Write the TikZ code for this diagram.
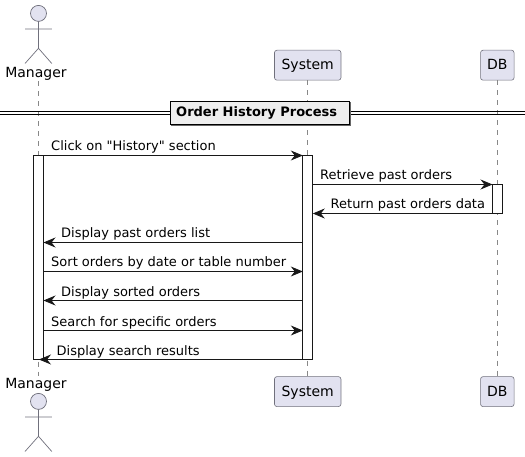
\documentclass[tikz,border=0pt]{standalone}
\usepackage{fontspec}
\newfontfamily\djv{DejaVu Sans}
\usetikzlibrary{arrows.meta}
\definecolor{partfill}{HTML}{E2E2F0}
\definecolor{partline}{HTML}{70707C}
\definecolor{lifecol}{HTML}{888888}
\definecolor{inkcol}{HTML}{181818}
\definecolor{dividerfill}{HTML}{EEEEEE}
\tikzset{
  x=1pt,y=-1pt,
  txt/.style={inner sep=0pt,font=\djv\fontsize{14}{16}\selectfont,text=black,anchor=base},
  lbl/.style={inner sep=0pt,font=\djv\fontsize{13}{15}\selectfont,text=black,anchor=base west},
  partbox/.style={draw=partline,fill=partfill,rounded corners=2.5pt,line width=.6pt,minimum height=30pt,inner sep=0pt,text height=12pt,text depth=3pt,font=\djv\fontsize{14}{16}\selectfont,text=black},
  lifeline/.style={draw=lifecol,dash pattern=on 5pt off 5pt,line width=.6pt},
  actor/.style={draw=partline,line width=.7pt},
  headc/.style={draw=partline,fill=partfill,line width=.7pt},
  actbar/.style={draw=inkcol,fill=white,line width=.8pt},
  msg/.style={draw=inkcol,line width=.8pt,-{Stealth[length=12pt,width=10pt,inset=4pt,color=inkcol]}},
  divline/.style={draw=black,line width=1pt},
}
\begin{document}
\begin{tikzpicture}
\useasboundingbox (0,0) rectangle (525,457);
% participants
\node[partbox,minimum width=66.5pt] (sysT) at (307.7,65.2) {System};
\node[partbox,minimum width=33.5pt] (dbT) at (497.3,65.2) {DB};
\node[partbox,minimum width=66.5pt] (sysB) at (307.7,391.6) {System};
\node[partbox,minimum width=33.5pt] (dbB) at (497.3,391.6) {DB};
\node[txt] (manT) at (36,77.5) {Manager};
\node[txt] (manB) at (36,388.7) {Manager};
\coordinate (manTop) at (38.5,81.5);
\coordinate (manBot) at (38.5,376);
% lifelines
\draw[lifeline] (manTop) -- (manBot);
\draw[lifeline] (sysT.south) -- (sysB.north);
\draw[lifeline] (dbT.south) -- (dbB.north);
% actors
\foreach \n/\dy in {A/0,B/388}{
  \draw[headc] (38.5,13.4+\dy) circle[radius=8];
  \draw[actor] (38.5,21.4+\dy) -- (38.5,48.3+\dy) (25,29+\dy) -- (51.8,29+\dy)
     (25,63.5+\dy) -- (38.5,48.3+\dy) -- (51.8,63.5+\dy);
}
% divider
\draw[divline] (0,111.6) -- (525,111.6) (0,114.4) -- (525,114.4);
\fill[black!60] (171,102) rectangle (351,126);
\node[draw=black,fill=dividerfill,line width=1.2pt,minimum width=179pt,minimum height=23pt,inner sep=0pt] (divbox) at (260,112.7) {};
\node[anchor=base west,inner sep=0pt,font=\djv\bfseries\fontsize{13}{15}\selectfont] (divtxt) at (176,117) {Order History Process};
% activations
\node[actbar,minimum width=10pt,minimum height=204.5pt,inner sep=0pt] (actM) at (38.5,257.2) {};
\node[actbar,minimum width=10pt,minimum height=204.5pt,inner sep=0pt] (actS) at (307.8,257.2) {};
\node[actbar,minimum width=10pt,minimum height=29pt,inner sep=0pt] (actD) at (497.5,198.5) {};
% anchor points on the activation bars
\foreach \n/\y in {a/155.5,b/184.5,c/213.5,d/242.5,e/271.5,f/300.5,g/330.5,h/359.5}{
  \coordinate (M\n) at (43.5,\y);
  \coordinate (Sl\n) at (302.8,\y);
  \coordinate (Sr\n) at (312.8,\y);
  \coordinate (Dl\n) at (492.5,\y);
}
\coordinate (Mtip) at (39,359.5);
% messages
\draw[msg] (Ma) -- (Sla);
\draw[msg] (Srb) -- (Dlb);
\draw[msg] (Dlc) -- (Src);
\draw[msg] (Sld) -- (Md);
\draw[msg] (Me) -- (Sle);
\draw[msg] (Slf) -- (Mf);
\draw[msg] (Mg) -- (Slg);
\draw[msg] (Slh) -- (Mtip);
% labels
\node[lbl] (l1) at (51,150.7) {Click on "History" section};
\node[lbl] (l2) at (320,180) {Retrieve past orders};
\node[lbl] (l3) at (330.5,209) {Return past orders data};
\node[lbl] (l4) at (61,238) {Display past orders list};
\node[lbl] (l5) at (51,267) {Sort orders by date or table number};
\node[lbl] (l6) at (61,296) {Display sorted orders};
\node[lbl] (l7) at (51,326) {Search for specific orders};
\node[lbl] (l8) at (56.5,355) {Display search results};
\end{tikzpicture}
\end{document}
